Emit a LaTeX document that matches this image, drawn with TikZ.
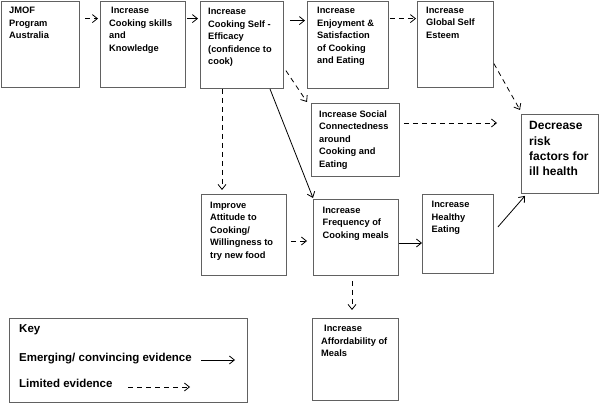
\documentclass[tikz,border=0pt]{standalone}
\usepackage{fontspec}
\setmainfont{Liberation Sans}
\usetikzlibrary{arrows.meta}
\tikzset{
  box/.style={draw=black!62, line width=0.9pt, rectangle, inner sep=0pt, anchor=north west},
  txt/.style={anchor=north west, inner sep=0pt, align=left, font=\fontsize{9.3}{12.5}\selectfont\bfseries},
  bigtxt/.style={anchor=north west, inner sep=0pt, align=left, font=\fontsize{12}{15.3}\selectfont\bfseries},
  keytxt/.style={anchor=base west, inner sep=0pt, font=\fontsize{11.5}{14}\selectfont\bfseries},
  solidarr/.style={draw=black, line width=0.8pt, -{Straight Barb[length=5pt,width=8pt,line width=0.8pt]}},
  dasharr/.style={draw=black, line width=0.8pt, dash pattern=on 5pt off 4pt, -{Straight Barb[length=5pt,width=8pt,line width=0.8pt]}}
}
\newcommand{\mkbox}[6]{% name, x1, y1, x2, y2
  \node[box, minimum width={#4-#2}, minimum height={#5-#3}] (#1) at (#2,#3) {};}
\begin{document}
\begin{tikzpicture}[x=1pt,y=-1pt]
\useasboundingbox (0,0) rectangle (600,403);
% boxes
\node[box, minimum width=78.5pt, minimum height=86.5pt] (b1) at (0.6,0.6) {};
\node[box, minimum width=85pt, minimum height=86.5pt] (b2) at (100,0.6) {};
\node[box, minimum width=83pt, minimum height=87.5pt] (b3) at (200,0.6) {};
\node[box, minimum width=81pt, minimum height=87.5pt] (b4) at (307,0.6) {};
\node[box, minimum width=76pt, minimum height=86.5pt] (b5) at (417,0.6) {};
\node[box, minimum width=88pt, minimum height=73pt] (soc) at (311,103) {};
\node[box, minimum width=77pt, minimum height=79pt] (dec) at (521,114) {};
\node[box, minimum width=85pt, minimum height=81pt] (att) at (201,194) {};
\node[box, minimum width=85pt, minimum height=76pt] (freq) at (313,199) {};
\node[box, minimum width=71pt, minimum height=79pt] (heal) at (422,194) {};
\node[box, minimum width=86pt, minimum height=82pt] (aff) at (312,318) {};
\node[box, minimum width=238pt, minimum height=83.5pt] (key) at (9,318) {};
% texts
\node[txt] (t1) at (9,7.3) {JMOF\\Program\\Australia};
\node[txt] (t2) at (109,7.3) {\hspace{2pt}Increase\\Cooking skills\\and\\Knowledge};
\node[txt] (t3) at (208,8) {Increase\\Cooking Self -\\Efficacy\\(confidence to\\cook)};
\node[txt] (t4) at (317,7.3) {Increase\\Enjoyment \&\\Satisfaction\\of Cooking\\and Eating};
\node[txt] (t5) at (426,6.7) {Increase\\Global Self\\Esteem};
\node[txt] (tsoc) at (319,110.5) {Increase Social\\Connectedness\\around\\Cooking and\\Eating};
\node[bigtxt] (tdec) at (529,121.5) {Decrease\\risk\\factors for\\ill health};
\node[txt] (tatt) at (210,201.5) {Improve\\Attitude to\\Cooking/\\Willingness to\\try new food};
\node[txt] (tfreq) at (322.5,206.5) {Increase\\Frequency of\\Cooking meals};
\node[txt] (theal) at (431.5,201) {Increase\\Healthy\\Eating};
\node[txt] (taff) at (321,325) {\hspace{3pt}Increase\\Affordability of\\Meals};
\node[keytxt] (k1) at (19,333) {Key};
\node[keytxt] (k2) at (19,361.5) {Emerging/ convincing evidence};
\node[keytxt] (k3) at (19,387.5) {Limited evidence};
% connectors
\draw[dasharr] ([shift={(5,18)}]b1.north east) -- ([shift={(-2,18)}]b2.north west);
\draw[solidarr] ([shift={(1,18)}]b2.north east) -- ([shift={(-2,18)}]b3.north west);
\draw[solidarr] ([shift={(6,20)}]b3.north east) -- ([shift={(-2,20)}]b4.north west);
\draw[dasharr] ([shift={(1,18)}]b4.north east) -- ([shift={(-1,18)}]b5.north west);
\draw[dasharr] ([shift={(0,63)}]b5.north east) -- ([shift={(-1,-4)}]dec.north west);
\draw[dasharr] ([shift={(2,70)}]b3.north east) -- ([shift={(-4,-1)}]soc.north west);
\coordinate (socend) at (497,123);
\draw[dasharr] ([shift={(4,20)}]soc.north east) -- (socend);
\draw[dasharr] (b3.south west -| 222,0) -- ([shift={(21,-4)}]att.north west);
\draw[solidarr] ([shift={(70,0)}]b3.south west) -- ([shift={(0,-1)}]freq.north west);
\draw[dasharr] ([shift={(4,47)}]att.north east) -- ([shift={(-6,42)}]freq.north west);
\draw[solidarr] ([shift={(0,44)}]freq.north east) -- ([shift={(0,49)}]heal.north west);
\draw[dasharr] ([shift={(39,5)}]freq.south west) -- ([shift={(40,-8)}]aff.north west);
\draw[solidarr] ([shift={(4,33)}]heal.north east) -- ([shift={(4,2)}]dec.south west);
% key arrows
\coordinate (ks1) at (201,360);
\coordinate (ke1) at (235,360);
\coordinate (ks2) at (128,387);
\coordinate (ke2) at (190,387);
\draw[solidarr] (ks1) -- (ke1);
\draw[dasharr] (ks2) -- (ke2);
\end{tikzpicture}
\end{document}
